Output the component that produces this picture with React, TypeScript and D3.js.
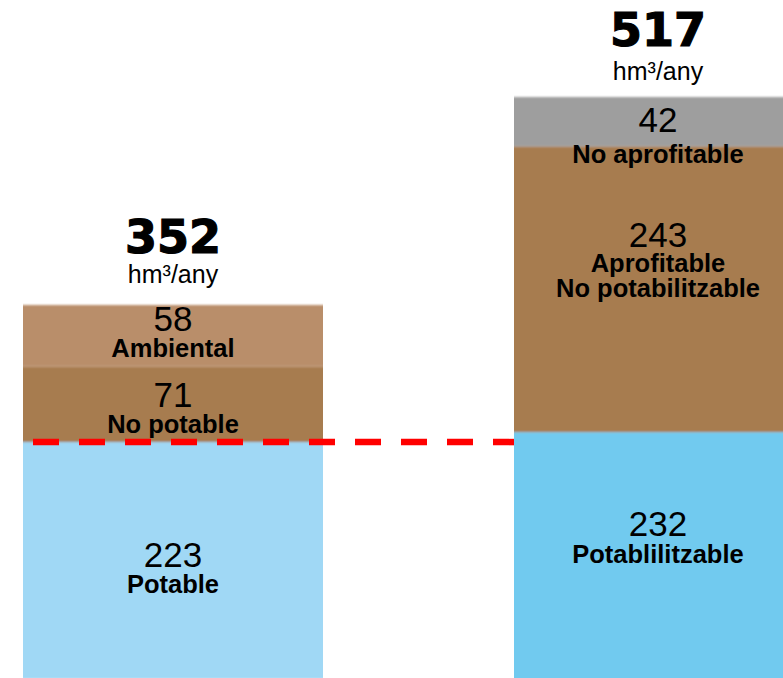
import React from "react";
import * as d3 from "d3";

// ---- data ----
const barKeys = ["actual", "potencial"];
const totals = [352, 517];
const unitLabel = "hm³/any";
const leftValues = [223, 71, 58];
const leftLabels = [["Potable"], ["No potable"], ["Ambiental"]];
const rightValues = [232, 243, 42];
const rightLabels = [["Potablilitzable"], ["Aprofitable", "No potabilitzable"], ["No aprofitable"]];
const referenceValue = 223; // dashed line: current drinkable resource

// ---- styles / layout ----
const W = 783;
const H = 678;
const leftColors = ["#A0D8F5", "#A77B4F", "#B98E6B"];
const rightColors = ["#71CAEF", "#A77B4F", "#9E9E9E"];
const barWidths = [300, 288];
const yRanges: [number, number][] = [
  [679, 305],
  [705, 97],
];
// baseline offsets from segment top: [number, label line 1, label line 2 ...]
const leftOffsets = [[125, 151], [40.5, 66.5], [26, 52]];
const rightOffsets = [[104, 131], [100.6, 125.6, 150.6], [35, 66]];
const totalOffsets = [[-52, -22], [-51, -17]];

const FONT = "'Liberation Sans', Arial, Helvetica, sans-serif";

export default function App() {
  const x = d3.scalePoint<string>().domain(barKeys).range([23, 514]);
  const series = [
    { values: leftValues, labels: leftLabels, colors: leftColors, offsets: leftOffsets },
    { values: rightValues, labels: rightLabels, colors: rightColors, offsets: rightOffsets },
  ];
  const scales = series.map((s, i) =>
    d3.scaleLinear().domain([0, d3.sum(s.values)]).range(yRanges[i])
  );

  const yRef = scales[0](referenceValue);
  const x0 = x(barKeys[0])! + 10;
  const x1 = x(barKeys[1])!;

  return (
    <svg
      width={W}
      height={H}
      style={{ position: "absolute", left: 0, top: 0, background: "#fff" }}
    >
      <defs>
        <filter id="soft" x="-5%" y="-5%" width="110%" height="110%">
          <feGaussianBlur stdDeviation="0.7 1.3" />
        </filter>
      </defs>
      {series.map((s, bi) => {
        const y = scales[bi];
        const left = x(barKeys[bi])!;
        const bw = barWidths[bi];
        const cx = left + bw / 2;
        const ends = Array.from(d3.cumsum(s.values));
        const starts = ends.map((e, i) => e - s.values[i]);
        const top = y(ends[ends.length - 1]);
        return (
          <g key={barKeys[bi]}>
            <g filter="url(#soft)">
              {s.values.map((v, i) => (
                <rect
                  key={i}
                  x={left}
                  y={y(ends[i])}
                  width={bw}
                  height={y(starts[i]) - y(ends[i])}
                  fill={s.colors[i]}
                />
              ))}
            </g>
            {s.values.map((v, i) => {
              const segTop = y(ends[i]);
              const off = s.offsets[i];
              return (
                <g key={"t" + i} textAnchor="middle" fill="#000" fontFamily={FONT}>
                  <text x={cx} y={segTop + off[0]} fontSize={35}>
                    {d3.format("d")(v)}
                  </text>
                  {s.labels[i].map((l, li) => (
                    <text
                      key={li}
                      x={cx}
                      y={segTop + off[li + 1]}
                      fontSize={25.5}
                      fontWeight="bold"
                    >
                      {l}
                    </text>
                  ))}
                </g>
              );
            })}
            <text
              x={cx}
              y={top + totalOffsets[bi][0]}
              textAnchor="middle"
              fontFamily="'DejaVu Sans', sans-serif"
              fontWeight="bold"
              fontSize={46}
              stroke="#000"
              strokeWidth={1.2}
            >
              {totals[bi]}
            </text>
            <text
              x={cx}
              y={top + totalOffsets[bi][1]}
              textAnchor="middle"
              fontFamily={FONT}
              fontSize={25}
            >
              {unitLabel}
            </text>
          </g>
        );
      })}
      <line
        x1={x0}
        x2={x1}
        y1={yRef}
        y2={yRef}
        stroke="#FF0000"
        strokeWidth={6.5}
        strokeDasharray="26 20"
      />
    </svg>
  );
}
